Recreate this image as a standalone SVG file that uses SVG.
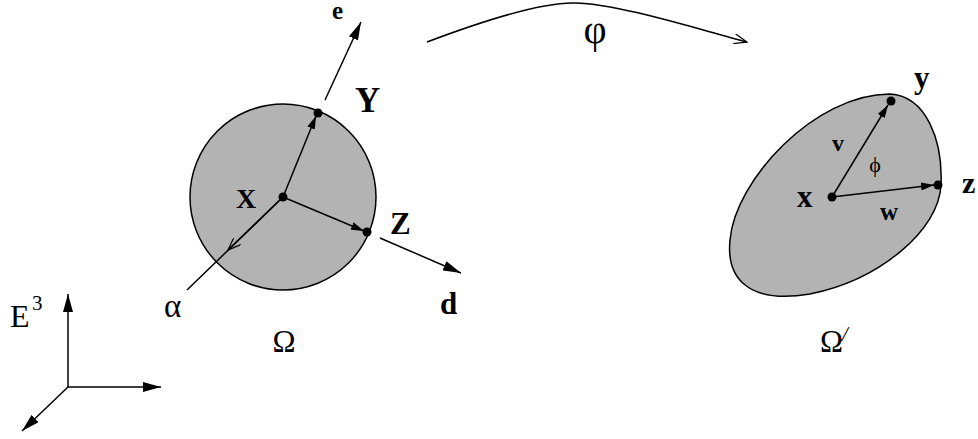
<svg xmlns="http://www.w3.org/2000/svg" width="978" height="439" viewBox="0 0 978 439">
<defs>
<marker id="fill" viewBox="0 0 13 8" refX="13" refY="4" markerWidth="13" markerHeight="8" markerUnits="userSpaceOnUse" orient="auto"><path d="M0,0 L13,4 L0,8 Z" fill="#000"/></marker>
<marker id="big" viewBox="0 0 18 10" refX="18" refY="5" markerWidth="18" markerHeight="10" markerUnits="userSpaceOnUse" orient="auto"><path d="M0,0 L18,5 L0,10 Z" fill="#000"/></marker>
<marker id="open" viewBox="0 0 14 10" refX="13" refY="5" markerWidth="14" markerHeight="10" markerUnits="userSpaceOnUse" orient="auto"><path d="M0,0 L13,5 L0,10" fill="none" stroke="#000" stroke-width="1.2"/></marker>
</defs>
<style>
.ln{stroke:#000;stroke-width:1.5;fill:none}
.sh{fill:#b3b3b3;stroke:#000;stroke-width:1.5}
.b{font-family:"Liberation Serif",serif;font-weight:bold;fill:#000}
.r{font-family:"Liberation Serif",serif;fill:#000}
</style>
<rect width="978" height="439" fill="#fff"/>
<g id="omega">
<circle class="sh" cx="283" cy="197" r="93"/>
<text class="r" x="284" y="352" font-size="31" text-anchor="middle">Ω</text>
</g>
<g id="omegaprime">
<path class="sh" d="M890,94 C926,96 943,140 941,185 C939,230 880,280 810,294 C750,304 726,280 730,240 C735,180 815,94 890,94 Z"/>
<text class="r" x="820" y="352" font-size="31">Ω</text>
<text class="r" x="842" y="341" font-size="21" font-style="italic">/</text>
</g>
<g id="connectors">
<line class="ln" x1="325" y1="100" x2="361" y2="22" marker-end="url(#big)"/>
<line class="ln" x1="380" y1="238" x2="461" y2="273" marker-end="url(#big)"/>
<line class="ln" x1="187" y1="290" x2="283" y2="197"/>
<line class="ln" x1="283" y1="197" x2="228" y2="250" marker-end="url(#open)"/>
<line class="ln" x1="283" y1="197" x2="316" y2="116" marker-end="url(#fill)"/>
<line class="ln" x1="283" y1="197" x2="364" y2="231" marker-end="url(#fill)"/>
<line class="ln" x1="832" y1="197" x2="888" y2="105" marker-end="url(#fill)"/>
<line class="ln" x1="832" y1="197" x2="934" y2="185" marker-end="url(#fill)"/>
<path class="ln" d="M427,42 C480,22 540,2 575,3 C620,4 700,30 747,42" marker-end="url(#open)"/>
<line class="ln" x1="68" y1="387" x2="68" y2="294" marker-end="url(#big)"/>
<line class="ln" x1="68" y1="387" x2="161" y2="387" marker-end="url(#big)"/>
<line class="ln" x1="68" y1="387" x2="22" y2="431" marker-end="url(#big)"/>
</g>
<g id="X"><circle cx="283" cy="197" r="4.5"/><text class="b" x="236" y="208" font-size="28">X</text></g>
<g id="Y"><circle cx="318" cy="113" r="4.5"/><text class="b" x="355" y="112" font-size="35">Y</text></g>
<g id="Z"><circle cx="367" cy="232" r="4.5"/><text class="b" x="390" y="234" font-size="31">Z</text></g>
<g id="x"><circle cx="832" cy="197" r="4.5"/><text class="b" x="797" y="207" font-size="31">x</text></g>
<g id="y"><circle cx="891" cy="101" r="4.5"/><text class="b" x="914" y="88" font-size="31">y</text></g>
<g id="z"><circle cx="938" cy="185" r="4.5"/><text class="b" x="962" y="193" font-size="30">z</text></g>
<g id="labels">
<text class="b" x="332" y="19" font-size="25">e</text>
<text class="b" x="440" y="314" font-size="31">d</text>
<text class="r" x="164" y="317" font-size="33">α</text>
<text class="r" x="595" y="43" font-size="40" text-anchor="middle">φ</text>
<text class="b" x="832" y="151" font-size="24">v</text>
<text class="b" x="880" y="220" font-size="25">w</text>
<text class="r" x="875" y="172" font-size="22" text-anchor="middle">ϕ</text>
<text class="r" x="10" y="327" font-size="32">E</text>
<text class="r" x="32" y="310" font-size="21">3</text>
</g>
</svg>
